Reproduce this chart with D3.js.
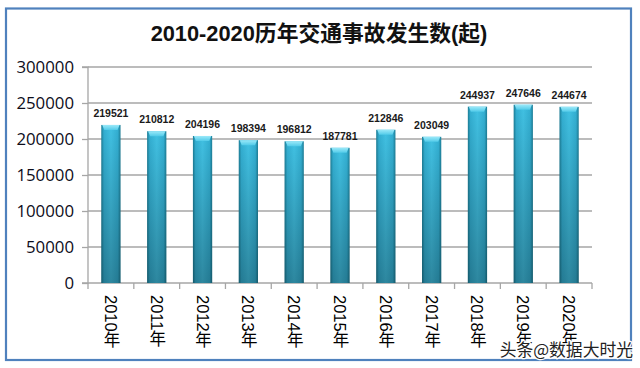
<!DOCTYPE html>
<html><head><meta charset="utf-8">
<script src="https://cdn.jsdelivr.net/npm/d3@7"></script>
<style>body{margin:0;background:#fff}svg{display:block}</style>
</head><body>
<script>
const categories = ["2010年","2011年","2012年","2013年","2014年","2015年","2016年","2017年","2018年","2019年","2020年"];
const values = [219521,210812,204196,198394,196812,187781,212846,203049,244937,247646,244674];
const yTicks = [0,50000,100000,150000,200000,250000,300000];
const title = "2010-2020历年交通事故发生数(起)";
const watermark = "头条@数据大时光";

const W=640,H=368;
const svg=d3.select("body").append("svg").attr("width",W).attr("height",H);
const defs=svg.append("defs");
const hg=defs.append("linearGradient").attr("id","hg").attr("x1",0).attr("x2",1).attr("y1",0).attr("y2",0);
[[0,"#1c7d96"],[0.14,"#33afd2"],[0.5,"#41c1e3"],[0.86,"#33afd2"],[1,"#1c7d96"]].forEach(s=>hg.append("stop").attr("offset",s[0]).attr("stop-color",s[1]));
const vg=defs.append("linearGradient").attr("id","vg").attr("x1",0).attr("x2",0).attr("y1",0).attr("y2",1);
[[0,"#000",0],[1,"#000",0.3]].forEach(s=>vg.append("stop").attr("offset",s[0]).attr("stop-color",s[1]).attr("stop-opacity",s[2]));
const cg=defs.append("linearGradient").attr("id","cg").attr("x1",0).attr("x2",0).attr("y1",0).attr("y2",1);
[[0,"#9be9f9"],[1,"#52cbe9"]].forEach(s=>cg.append("stop").attr("offset",s[0]).attr("stop-color",s[1]));

svg.append("rect").attr("x",6).attr("y",8.5).attr("width",625).attr("height",351.5)
  .attr("fill","#fff").attr("stroke","#4f81bd").attr("stroke-width",2.2);

svg.append("text").attr("x",319).attr("y",41).attr("text-anchor","middle")
  .attr("font-family","'Liberation Sans','Noto Sans CJK SC',sans-serif").attr("font-weight","bold")
  .attr("font-size",21.8).attr("fill","#111").text(title);

const L=88,R=592,T=67,B=283;
const x=d3.scaleBand().domain(categories).range([L,R]).paddingInner(0.58).paddingOuter(0.29);
const y=d3.scaleLinear().domain([0,300000]).range([B,T]);

// gridlines
svg.append("g").selectAll("line").data(yTicks.filter(d=>d>0)).join("line")
  .attr("x1",L).attr("x2",R).attr("y1",d=>y(d)).attr("y2",d=>y(d))
  .attr("stroke","#a6a6a6").attr("stroke-width",1.3);

// y axis
const ya=svg.append("g").attr("transform",`translate(${L},0)`)
  .call(d3.axisLeft(y).tickValues(yTicks).tickSize(6).tickPadding(8).tickFormat(d3.format("d")));
ya.select(".domain").attr("stroke","#a6a6a6").attr("stroke-width",1.3).attr("d",`M-6,${T}H0V${B}H-6`);
ya.selectAll(".tick line").attr("stroke","#a6a6a6").attr("stroke-width",1.3);
ya.selectAll(".tick text").attr("font-family","'Open Sans','Liberation Sans',sans-serif").attr("font-size",16.8).attr("fill","#0d0d1a");

// x axis
const bounds=d3.range(categories.length+1).map(i=>L+i*(R-L)/categories.length);
svg.append("line").attr("x1",L).attr("x2",R).attr("y1",B).attr("y2",B).attr("stroke","#a6a6a6").attr("stroke-width",1.3);
svg.append("g").selectAll("line").data(bounds).join("line")
  .attr("x1",d=>d).attr("x2",d=>d).attr("y1",B).attr("y2",B+6).attr("stroke","#a6a6a6").attr("stroke-width",1.3);

// bars
const g=svg.append("g");
const bw=x.bandwidth();
g.selectAll("rect.b").data(values).join("rect").attr("class","b")
  .attr("x",(d,i)=>x(categories[i])).attr("y",d=>y(d)).attr("width",bw).attr("height",d=>B-y(d)).attr("fill","url(#hg)");
g.selectAll("rect.v").data(values).join("rect").attr("class","v")
  .attr("x",(d,i)=>x(categories[i])).attr("y",d=>y(d)).attr("width",bw).attr("height",d=>B-y(d)).attr("fill","url(#vg)");
g.selectAll("path.c").data(values).join("path").attr("class","c")
  .attr("d",(d,i)=>{const x0=x(categories[i]),y0=y(d);return `M${x0+1},${y0}H${x0+bw-1}L${x0+bw-3},${y0+5}H${x0+3}Z`;})
  .attr("fill","url(#cg)");

// value labels
g.selectAll("text.l").data(values).join("text").attr("class","l")
  .attr("x",(d,i)=>x(categories[i])+bw/2).attr("y",d=>y(d)-8).attr("text-anchor","middle")
  .attr("font-family","'Liberation Sans',sans-serif").attr("font-weight","bold").attr("font-size",10.5).attr("fill","#1a1a1a")
  .text(d=>d);

// x labels vertical
svg.append("g").selectAll("text").data(categories).join("text")
  .attr("x",d=>x(d)+bw/2).attr("y",295)
  .style("writing-mode","vertical-rl")
  .attr("font-family","'Liberation Sans','Noto Sans CJK SC',sans-serif").attr("font-size",16.5).attr("fill","#000")
  .text(d=>d);

// watermark
svg.append("text").attr("x",633).attr("y",356).attr("text-anchor","end")
  .attr("font-family","'Noto Sans CJK SC',sans-serif").attr("font-size",16.8)
  .attr("fill","#222").attr("stroke","#fff").attr("stroke-width",2.5).attr("paint-order","stroke")
  .text(watermark);
</script>
</body></html>
